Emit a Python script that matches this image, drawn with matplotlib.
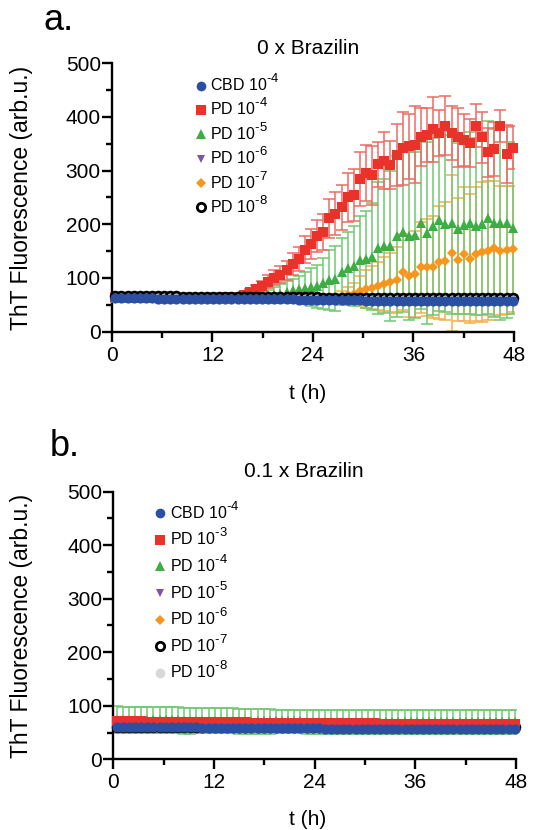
import numpy as np
import matplotlib
matplotlib.use("Agg")
import matplotlib.pyplot as plt
from matplotlib.lines import Line2D
from matplotlib.ticker import MultipleLocator

try:
    import matplotlib._mathtext as _mt
    _mt.SHRINK_FACTOR = 0.82
    _mt.FontConstantsBase.sup1 = 0.85
except Exception:
    pass

plt.rcParams['font.family'] = ['Liberation Sans', 'DejaVu Sans']
plt.rcParams['mathtext.fontset'] = 'custom'
plt.rcParams['mathtext.rm'] = 'Liberation Sans'
plt.rcParams['mathtext.it'] = 'Liberation Sans:italic'
plt.rcParams['mathtext.bf'] = 'Liberation Sans:bold'

# ---------------- data ----------------
t_h = [0.4, 1.13, 1.86, 2.59, 3.32, 4.05, 4.78, 5.51, 6.24, 6.97,
       7.7, 8.43, 9.16, 9.89, 10.62, 11.35, 12.08, 12.81, 13.54, 14.27,
       15.0, 15.73, 16.46, 17.19, 17.92, 18.65, 19.38, 20.11, 20.84, 21.57,
       22.3, 23.03, 23.76, 24.49, 25.22, 25.95, 26.68, 27.41, 28.14, 28.87,
       29.6, 30.33, 31.06, 31.79, 32.52, 33.25, 33.98, 34.71, 35.44, 36.17,
       36.9, 37.63, 38.36, 39.09, 39.82, 40.55, 41.28, 42.01, 42.74, 43.47,
       44.2, 44.93, 45.66, 46.39, 47.12, 47.85]

# Panel a (0 x Brazilin)
a_cbd4 = [63, 63, 62, 62, 62, 62, 62, 61, 61, 61,
          61, 61, 61, 61, 61, 61, 60, 60, 60, 60,
          60, 60, 60, 60, 60, 60, 60, 60, 60, 60,
          59, 59, 59, 59, 59, 59, 59, 59, 59, 59,
          59, 58, 58, 58, 58, 58, 58, 58, 58, 58,
          58, 58, 58, 58, 58, 58, 58, 58, 58, 58,
          58, 58, 58, 58, 58, 58]
a_cbd4_err = [2] * 66

a_pd4 = [64, 64, 64, 64, 64, 63, 63, 63, 63, 63,
         63, 63, 63, 63, 63, 63, 63, 63, 64, 64,
         65, 68, 73, 79, 85, 93, 100, 106, 114, 126,
         135, 153, 163, 178, 186, 211, 220, 232, 250, 255,
         284, 295, 291, 312, 318, 310, 329, 342, 345, 348,
         363, 366, 377, 370, 384, 370, 362, 357, 351, 384,
         362, 334, 340, 383, 331, 343]
a_pd4_err = [3, 3, 3, 3, 3, 3, 3, 3, 3, 3,
             3, 3, 3, 3, 3, 3, 3, 3, 3, 4,
             5, 6, 7, 8, 10, 12, 14, 16, 18, 20,
             22, 25, 28, 30, 33, 36, 40, 42, 45, 48,
             50, 52, 55, 42, 53, 45, 57, 68, 60, 72,
             54, 50, 61, 43, 55, 50, 55, 48, 45, 40,
             47, 45, 50, 30, 54, 40]

a_pd5 = [63, 63, 63, 63, 63, 63, 63, 63, 63, 63,
         63, 63, 62, 62, 62, 62, 62, 62, 62, 63,
         63, 63, 64, 64, 65, 66, 68, 71, 74, 77,
         79, 81, 83, 85, 90, 96, 99, 112, 118, 122,
         133, 135, 140, 156, 160, 160, 178, 186, 178, 180,
         202, 184, 196, 208, 201, 203, 192, 198, 202, 196,
         201, 212, 202, 202, 203, 193]
a_pd5_err = [3, 3, 3, 3, 3, 3, 3, 3, 3, 3,
             3, 3, 3, 3, 3, 3, 3, 3, 3, 3,
             4, 5, 6, 8, 10, 12, 15, 18, 20, 22,
             25, 30, 35, 40, 48, 56, 60, 62, 68, 75,
             82, 90, 100, 123, 125, 140, 150, 150, 157, 155,
             160, 170, 165, 170, 165, 170, 160, 165, 170, 165,
             170, 180, 175, 180, 178, 160]

a_pd6 = [63, 63, 63, 63, 63, 63, 62, 62, 62, 62,
         62, 62, 62, 62, 62, 62, 62, 62, 62, 62,
         62, 62, 62, 62, 62, 62, 62, 62, 62, 62,
         61, 61, 61, 61, 61, 61, 61, 61, 61, 61,
         61, 61, 61, 61, 61, 61, 61, 61, 61, 61,
         61, 61, 61, 61, 61, 61, 61, 61, 61, 61,
         61, 61, 61, 61, 61, 61]
a_pd6_err = [2] * 66

a_pd7 = [62, 62, 62, 62, 62, 62, 62, 62, 62, 62,
         62, 62, 62, 62, 62, 62, 62, 62, 62, 62,
         62, 62, 62, 62, 62, 62, 62, 62, 62, 62,
         62, 62, 62, 62, 62, 63, 64, 66, 68, 71,
         76, 79, 82, 85, 89, 92, 96, 111, 103, 107,
         120, 120, 121, 129, 132, 147, 134, 144, 136, 145,
         148, 151, 155, 151, 152, 154]
a_pd7_err = [2, 2, 2, 2, 2, 2, 2, 2, 2, 2,
             2, 2, 2, 2, 2, 2, 2, 2, 2, 2,
             2, 2, 2, 2, 2, 2, 2, 2, 2, 2,
             2, 2, 2, 2, 2, 3, 5, 10, 15, 20,
             28, 35, 40, 45, 50, 55, 62, 70, 75, 80,
             85, 90, 95, 105, 110, 145, 115, 125, 120, 125,
             130, 130, 125, 120, 120, 118]

a_pd8 = [67, 67, 67, 66, 66, 66, 66, 66, 66, 66,
         66, 65, 65, 65, 65, 65, 65, 65, 65, 65,
         65, 65, 64, 64, 64, 64, 64, 64, 64, 64,
         64, 64, 64, 64, 63, 63, 63, 63, 63, 63,
         63, 63, 63, 63, 63, 63, 63, 63, 63, 63,
         63, 63, 63, 63, 63, 63, 63, 63, 63, 63,
         63, 63, 63, 63, 63, 63]
a_pd8_err = [2] * 66

# Panel b (0.1 x Brazilin)
b_cbd4 = [61, 61, 61, 61, 61, 61, 60, 60, 60, 60,
          60, 60, 60, 60, 59, 59, 59, 59, 59, 59,
          59, 59, 59, 58, 58, 58, 58, 58, 58, 58,
          58, 58, 58, 58, 57, 57, 57, 57, 57, 57,
          57, 57, 57, 57, 57, 57, 57, 56, 56, 56,
          56, 56, 56, 56, 56, 56, 56, 56, 56, 56,
          56, 56, 56, 56, 56, 56]
b_pd3 = [71, 71, 71, 71, 71, 70, 70, 70, 70, 70,
         70, 70, 70, 69, 69, 69, 69, 69, 69, 69,
         69, 69, 68, 68, 68, 68, 68, 68, 68, 68,
         68, 67, 67, 67, 67, 67, 67, 67, 67, 67,
         67, 67, 67, 66, 66, 66, 66, 66, 66, 66,
         66, 66, 66, 66, 66, 66, 66, 66, 66, 66,
         66, 66, 66, 66, 66, 66]
b_pd4 = [74, 74, 74, 74, 73, 73, 73, 73, 73, 73,
         73, 72, 72, 72, 72, 72, 72, 72, 72, 72,
         71, 71, 71, 71, 71, 71, 71, 71, 71, 71,
         71, 70, 70, 70, 70, 70, 70, 70, 70, 70,
         70, 70, 70, 70, 70, 70, 70, 70, 70, 70,
         70, 70, 70, 70, 70, 70, 70, 70, 70, 70,
         70, 70, 70, 70, 70, 70]
b_pd4_err = [25, 24, 24, 24, 24, 24, 24, 24, 24, 24,
             24, 24, 24, 23, 23, 23, 23, 23, 23, 23,
             23, 23, 23, 23, 23, 23, 22, 22, 22, 22,
             22, 22, 22, 22, 22, 22, 22, 22, 22, 22,
             22, 22, 22, 22, 22, 22, 22, 22, 22, 22,
             22, 22, 22, 22, 22, 22, 22, 22, 22, 22,
             22, 22, 22, 22, 22, 22]
b_pd5 = [61] * 66
b_pd6 = [61] * 66
b_pd7 = [61] * 66
b_pd8 = [60] * 66
b_small_err = [2] * 66

a_labels = [r"CBD 10$^{\text{-4}}$", r"PD 10$^{\text{-4}}$", r"PD 10$^{\text{-5}}$",
            r"PD 10$^{\text{-6}}$", r"PD 10$^{\text{-7}}$", r"PD 10$^{\text{-8}}$"]
b_labels = [r"CBD 10$^{\text{-4}}$", r"PD 10$^{\text{-3}}$", r"PD 10$^{\text{-4}}$",
            r"PD 10$^{\text{-5}}$", r"PD 10$^{\text{-6}}$", r"PD 10$^{\text{-7}}$",
            r"PD 10$^{\text{-8}}$"]

# ---------------- style ----------------
BLUE = '#2A4FA3'
RED = '#E8322A'
GREEN = '#3DAE43'
PURPLE = '#7B54A3'
ORANGE = '#F5961E'
GRAY = '#D8D8D8'
BLACK = '#000000'
RED_BAR = '#EE6B62'
GREEN_BAR = '#72C872'
ORANGE_BAR = '#F7AE4A'

t = np.array(t_h)

fig = plt.figure(figsize=(5.33, 8.30), dpi=100)
ax1 = fig.add_axes([0.2101, 0.6004, 0.7542, 0.3234])
ax2 = fig.add_axes([0.2126, 0.0852, 0.7555, 0.3224])


def style(ax):
    ax.set_xlim(0, 48)
    ax.set_ylim(0, 500)
    for s in ('top', 'right'):
        ax.spines[s].set_visible(False)
    for s in ('left', 'bottom'):
        ax.spines[s].set_linewidth(1.7)
    ax.xaxis.set_major_locator(MultipleLocator(12))
    ax.xaxis.set_minor_locator(MultipleLocator(6))
    ax.yaxis.set_major_locator(MultipleLocator(100))
    ax.yaxis.set_minor_locator(MultipleLocator(50))
    ax.tick_params(axis='x', which='major', length=7, width=1.7, labelsize=15, pad=3)
    ax.tick_params(axis='x', which='minor', length=4, width=1.7)
    ax.tick_params(axis='y', which='major', length=7, width=1.7, labelsize=15, pad=1)
    ax.tick_params(axis='y', which='minor', length=4, width=1.7)


def bars(ax, y, err, ecolor, z):
    ax.errorbar(t, y, yerr=err, fmt='none', ecolor=ecolor, elinewidth=1.1,
                capsize=4, capthick=1.1, zorder=z)


def marks(ax, y, color, marker, ms, z, mfc=None, mec=None, mew=0.0):
    ax.plot(t, y, linestyle='none', marker=marker, ms=ms,
            markerfacecolor=mfc if mfc else color,
            markeredgecolor=mec if mec else color, markeredgewidth=mew,
            zorder=z, clip_on=False)


style(ax1)
style(ax2)

# panel a: error bars (orange beneath green, red on top)
bars(ax1, a_pd6, a_pd6_err, PURPLE, 1)
bars(ax1, a_pd7, a_pd7_err, ORANGE_BAR, 2)
bars(ax1, a_pd5, a_pd5_err, GREEN_BAR, 3)
bars(ax1, a_pd4, a_pd4_err, RED_BAR, 4)
bars(ax1, a_pd8, a_pd8_err, BLACK, 5)
bars(ax1, a_cbd4, a_cbd4_err, BLUE, 5)
# panel a: markers
marks(ax1, a_pd6, PURPLE, 'v', 6.5, 10)
marks(ax1, a_pd7, ORANGE, 'D', 5.0, 11)
marks(ax1, a_pd5, GREEN, '^', 7.0, 12)
marks(ax1, a_pd4, RED, 's', 6.8, 13)
marks(ax1, a_pd8, BLACK, 'o', 6.3, 14, mfc='white', mec=BLACK, mew=2.0)
marks(ax1, a_cbd4, BLUE, 'o', 7.3, 15)

# panel b
bars(ax2, b_pd5, b_small_err, PURPLE, 1)
bars(ax2, b_pd6, b_small_err, ORANGE_BAR, 1)
bars(ax2, b_pd8, b_small_err, GRAY, 1)
bars(ax2, b_pd7, b_small_err, BLACK, 1)
bars(ax2, b_pd4, b_pd4_err, GREEN_BAR, 2)
bars(ax2, b_pd3, b_small_err, RED_BAR, 3)
bars(ax2, b_cbd4, b_small_err, BLUE, 3)
marks(ax2, b_pd5, PURPLE, 'v', 6.5, 10)
marks(ax2, b_pd6, ORANGE, 'D', 5.0, 10)
marks(ax2, b_pd8, GRAY, 'o', 6.5, 10)
marks(ax2, b_pd7, BLACK, 'o', 6.3, 11, mfc='white', mec=BLACK, mew=2.0)
marks(ax2, b_pd4, GREEN, '^', 7.0, 12)
marks(ax2, b_pd3, RED, 's', 6.8, 13)
marks(ax2, b_cbd4, BLUE, 'o', 7.3, 15)


def h(marker, color, ms, mfc=None, mec=None, mew=0.0):
    return Line2D([], [], linestyle='none', marker=marker, ms=ms,
                  markerfacecolor=mfc if mfc else color,
                  markeredgecolor=mec if mec else color, markeredgewidth=mew)


a_handles = [h('o', BLUE, 7), h('s', RED, 6.5), h('^', GREEN, 6.5), h('v', PURPLE, 6),
             h('D', ORANGE, 4.8), h('o', BLACK, 6, mfc='white', mec=BLACK, mew=2.0)]
b_handles = [h('o', BLUE, 7), h('s', RED, 6.5), h('^', GREEN, 6.5), h('v', PURPLE, 6),
             h('D', ORANGE, 4.8), h('o', BLACK, 6, mfc='white', mec=BLACK, mew=2.0),
             h('o', GRAY, 7)]

ax1.legend(a_handles, a_labels, loc='upper left', bbox_to_anchor=(0.209, 0.965),
           frameon=False, handlelength=0.6, handletextpad=0.3, labelspacing=0.18,
           fontsize=11.5, borderaxespad=0, borderpad=0)
ax2.legend(b_handles, b_labels, loc='upper left', bbox_to_anchor=(0.105, 0.968),
           frameon=False, handlelength=0.6, handletextpad=0.3, labelspacing=0.32,
           fontsize=11.5, borderaxespad=0, borderpad=0)

# text
fig.text(0.081, 0.964, 'a.', fontsize=26, ha='left', va='baseline')
fig.text(0.094, 0.4506, 'b.', fontsize=26, ha='left', va='baseline')
fig.text(0.578, 0.942, '0 x Brazilin', fontsize=15, ha='center', va='center')
fig.text(0.570, 0.432, '0.1 x Brazilin', fontsize=15, ha='center', va='center')
fig.text(0.041, 0.762, 'ThT Fluorescence (arb.u.)', fontsize=16.5, rotation=90,
         ha='center', va='center')
fig.text(0.041, 0.2464, 'ThT Fluorescence (arb.u.)', fontsize=16.5, rotation=90,
         ha='center', va='center')
fig.text(0.578, 0.5265, 't (h)', fontsize=15, ha='center', va='center')
fig.text(0.578, 0.0125, 't (h)', fontsize=15, ha='center', va='center')

fig.savefig('out.png', dpi=100)
